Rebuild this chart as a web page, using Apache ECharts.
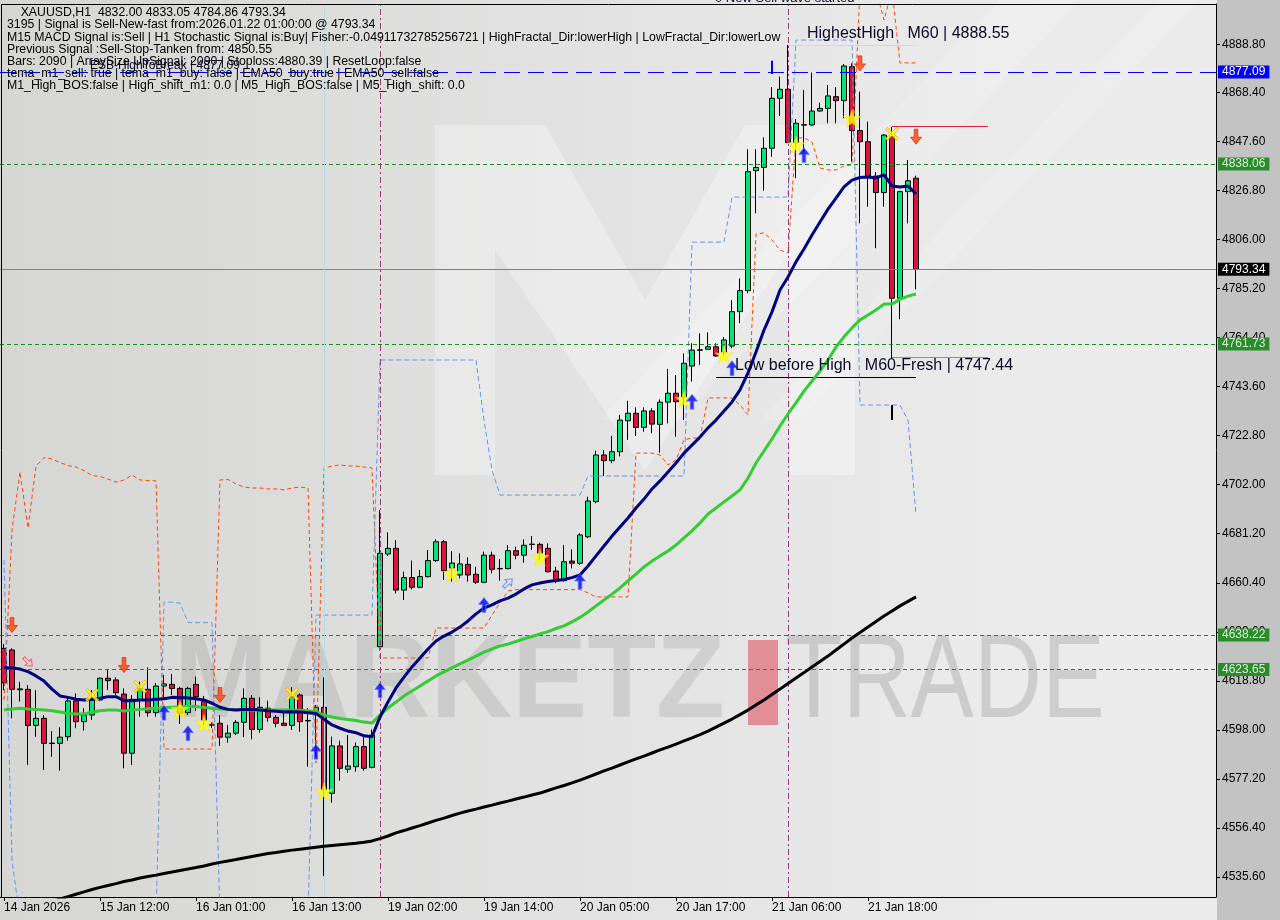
<!DOCTYPE html>
<html>
<head>
<meta charset="utf-8">
<script src="https://cdn.jsdelivr.net/npm/echarts@6/dist/echarts.min.js"></script>
<style>
html,body{margin:0;padding:0;}
#chart{width:1280px;height:920px;background:linear-gradient(to right,#d6d6d4 0px,#e2e2e2 560px,#ebebeb 1000px,#ececec 1217px,#c3c3c3 1217px,#c3c3c3 1280px);}
</style>
</head>
<body>
<div id="chart"></div>
<script>
// ---------- data ----------
const xTickIndex = [0, 12, 24, 36, 48, 60, 72, 84, 96, 108];
const xTickText = ['14 Jan 2026', '15 Jan 12:00', '16 Jan 01:00', '16 Jan 13:00', '19 Jan 02:00',
  '19 Jan 14:00', '20 Jan 05:00', '20 Jan 17:00', '21 Jan 06:00', '21 Jan 18:00'];
const yTicks = [4535.60, 4556.40, 4577.20, 4598.00, 4618.80, 4639.60, 4660.40, 4681.20, 4702.00,
  4722.80, 4743.60, 4764.40, 4785.20, 4806.00, 4826.80, 4847.60, 4868.40, 4888.80];

const opens = [
  4632.6, 4631.9, 4615.0, 4615.2, 4599.9, 4602.9, 4592.2, 4592.3, 4595.1, 4610.3,
  4601.5, 4604.3, 4610.7, 4619.9, 4619.2, 4613.2, 4588.1, 4611.0, 4615.2, 4605.3,
  4616.6, 4617.3, 4615.6, 4605.3, 4617.3, 4610.0, 4600.0, 4600.8, 4594.9, 4596.6,
  4601.2, 4611.4, 4598.2, 4607.2, 4603.3, 4600.8, 4599.9, 4612.8, 4601.8, 4605.7,
  4607.6, 4571.1, 4591.2, 4581.3, 4582.4, 4590.9, 4582.1, 4633.3, 4672.6, 4675.0,
  4657.3, 4662.6, 4658.5, 4663.0, 4669.8, 4677.8, 4666.7, 4663.7, 4668.2, 4664.0,
  4660.6, 4672.1, 4666.3, 4666.4, 4674.0, 4672.1, 4676.6, 4676.7, 4675.0, 4665.4,
  4661.3, 4669.6, 4668.7, 4679.9, 4694.8, 4714.6, 4712.2, 4716.0, 4729.1, 4732.3,
  4726.3, 4733.3, 4727.6, 4737.0, 4740.8, 4739.3, 4752.3, 4759.0, 4759.4, 4760.5,
  4758.3, 4760.8, 4775.4, 4784.3, 4835.2, 4836.6, 4844.7, 4865.9, 4869.7, 4847.1,
  4854.5, 4854.6, 4860.5, 4861.6, 4866.6, 4864.9, 4879.3, 4852.2, 4847.5, 4832.9,
  4825.9, 4849.6, 4781.1, 4826.3, 4832.00];
const highs = [
  4634.4, 4632.6, 4618.4, 4617.0, 4614.9, 4604.3, 4597.5, 4599.1, 4611.8, 4613.5,
  4607.2, 4614.9, 4620.3, 4623.4, 4620.3, 4615.6, 4612.8, 4618.4, 4624.5, 4617.8,
  4621.3, 4621.7, 4616.3, 4616.3, 4620.6, 4612.4, 4601.3, 4604.3, 4600.1, 4602.2,
  4615.6, 4612.8, 4611.8, 4610.4, 4604.3, 4606.7, 4616.1, 4613.5, 4607.2, 4608.6,
  4620.3, 4595.1, 4593.4, 4595.8, 4592.6, 4594.9, 4598.2, 4691.3, 4681.8, 4678.5,
  4665.1, 4669.8, 4665.8, 4674.3, 4678.8, 4678.5, 4673.9, 4672.9, 4671.2, 4667.2,
  4673.6, 4673.6, 4670.4, 4676.4, 4675.7, 4678.8, 4680.2, 4677.4, 4677.1, 4667.2,
  4676.4, 4674.6, 4681.4, 4696.9, 4716.4, 4716.7, 4722.7, 4731.6, 4737.6, 4734.8,
  4734.8, 4734.4, 4738.2, 4751.1, 4748.5, 4757.7, 4762.0, 4766.2, 4766.6, 4762.0,
  4764.6, 4780.3, 4789.5, 4844.3, 4844.3, 4849.3, 4870.6, 4875.1, 4888.55, 4857.1,
  4869.4, 4876.8, 4864.0, 4871.5, 4870.6, 4880.4, 4880.7, 4868.7, 4856.0, 4834.6,
  4850.7, 4853.8, 4826.7, 4839.7, 4833.05];
const lows = [
  4614.9, 4602.9, 4610.0, 4583.1, 4595.1, 4581.0, 4586.6, 4580.7, 4593.4, 4598.7,
  4597.7, 4602.2, 4610.4, 4614.9, 4612.8, 4581.7, 4583.1, 4603.6, 4603.6, 4603.6,
  4610.7, 4612.8, 4600.5, 4604.3, 4606.1, 4600.1, 4598.8, 4591.2, 4592.6, 4595.8,
  4594.9, 4594.0, 4596.8, 4601.5, 4599.1, 4599.6, 4598.0, 4597.2, 4582.4, 4586.6,
  4536.0, 4567.1, 4576.4, 4579.8, 4580.3, 4580.7, 4581.7, 4631.9, 4671.8, 4655.9,
  4653.1, 4657.6, 4658.1, 4662.7, 4669.3, 4661.6, 4660.9, 4662.3, 4660.9, 4659.9,
  4660.2, 4664.4, 4661.3, 4666.1, 4670.4, 4668.9, 4674.3, 4670.1, 4664.7, 4660.2,
  4660.9, 4666.5, 4667.9, 4679.3, 4694.1, 4705.7, 4711.1, 4714.0, 4721.0, 4722.7,
  4724.5, 4723.8, 4715.6, 4728.0, 4722.4, 4729.4, 4745.7, 4752.8, 4759.1, 4756.3,
  4756.9, 4759.9, 4770.5, 4783.2, 4817.1, 4826.7, 4841.1, 4858.4, 4846.8, 4832.0,
  4842.6, 4854.1, 4860.2, 4855.3, 4855.3, 4857.4, 4839.0, 4812.9, 4819.9, 4802.3,
  4819.9, 4755.6, 4772.2, 4812.9, 4784.86];
const closes = [
  4618.0, 4615.2, 4615.4, 4599.9, 4602.9, 4592.3, 4592.4, 4594.9, 4610.3, 4601.5,
  4604.3, 4610.7, 4619.9, 4618.9, 4613.8, 4588.1, 4611.0, 4615.6, 4605.3, 4616.6,
  4617.5, 4615.6, 4605.0, 4615.6, 4612.1, 4602.2, 4600.2, 4594.9, 4596.6, 4601.2,
  4611.4, 4598.2, 4607.6, 4603.3, 4600.8, 4599.9, 4612.1, 4601.5, 4602.0, 4607.6,
  4572.5, 4591.2, 4581.7, 4582.7, 4590.9, 4581.7, 4595.8, 4672.9, 4675.0, 4657.3,
  4662.6, 4658.5, 4663.0, 4669.8, 4677.8, 4665.5, 4668.8, 4668.4, 4663.7, 4660.6,
  4672.1, 4666.1, 4666.5, 4674.0, 4672.1, 4676.3, 4676.8, 4673.0, 4665.1, 4661.3,
  4669.3, 4668.7, 4680.7, 4695.1, 4714.6, 4712.2, 4716.0, 4729.4, 4732.3, 4726.3,
  4733.3, 4727.7, 4737.0, 4740.8, 4737.2, 4753.5, 4759.1, 4759.2, 4760.5, 4756.6,
  4763.4, 4775.4, 4784.3, 4834.8, 4836.6, 4844.7, 4865.9, 4869.7, 4847.1, 4855.3,
  4854.7, 4860.5, 4861.6, 4866.9, 4864.9, 4879.6, 4852.2, 4847.5, 4832.9, 4825.9,
  4850.3, 4781.1, 4826.3, 4830.9, 4793.34];

const fastMA = [
  4624.5, 4624.3, 4623.8, 4622.7, 4620.9, 4618.7, 4615.3, 4612.4, 4611.8, 4611.0,
  4610.7, 4611.0, 4611.4, 4612.1, 4612.1, 4610.4, 4610.4, 4610.7, 4610.7, 4611.0,
  4611.2, 4611.8, 4611.7, 4611.5, 4611.2, 4610.7, 4609.3, 4607.6, 4606.7, 4606.4,
  4606.7, 4606.7, 4606.4, 4606.1, 4605.9, 4605.6, 4605.7, 4605.6, 4605.3, 4605.0,
  4602.5, 4600.1, 4598.7, 4597.5, 4596.8, 4595.5, 4595.1, 4603.5, 4609.8, 4615.8,
  4620.4, 4624.7, 4628.5, 4632.3, 4635.7, 4637.8, 4639.5, 4641.6, 4644.2, 4647.2,
  4649.7, 4651.0, 4652.7, 4653.9, 4655.6, 4657.8, 4659.5, 4660.3, 4660.9, 4661.4,
  4661.8, 4662.6, 4663.7, 4667.5, 4671.8, 4676.0, 4680.2, 4684.1, 4687.9, 4692.1,
  4695.9, 4700.2, 4703.6, 4707.4, 4711.2, 4715.4, 4718.8, 4722.2, 4726.1, 4729.4,
  4733.3, 4737.1, 4742.2, 4749.4, 4758.3, 4767.6, 4775.3, 4784.6, 4790.1, 4796.5,
  4802.0, 4807.9, 4813.4, 4818.9, 4823.6, 4828.3, 4831.2, 4832.3, 4832.5, 4832.1,
  4833.4, 4828.7, 4828.3, 4828.7, 4825.3];
const ema50 = [
  4606.4, 4606.9, 4607.2, 4606.9, 4606.7, 4606.4, 4606.1, 4605.6, 4605.0, 4604.7,
  4604.7, 4605.6, 4606.1, 4606.4, 4606.4, 4606.0, 4606.4, 4606.7, 4607.0, 4607.2,
  4607.4, 4607.6, 4607.8, 4608.0, 4607.9, 4607.5, 4607.2, 4606.9, 4606.6, 4606.4,
  4606.4, 4606.4, 4606.4, 4606.4, 4606.4, 4606.4, 4606.4, 4606.3, 4606.1, 4605.8,
  4604.3, 4603.5, 4602.8, 4602.4, 4602.0, 4601.3, 4600.9, 4604.3, 4607.3, 4609.8,
  4612.4, 4614.5, 4616.6, 4618.7, 4620.9, 4622.6, 4624.3, 4626.0, 4627.6, 4629.3,
  4631.0, 4632.3, 4633.6, 4634.4, 4635.5, 4636.6, 4637.6, 4638.7, 4639.7, 4641.0,
  4642.1, 4643.8, 4645.7, 4648.0, 4650.6, 4653.1, 4655.6, 4658.2, 4661.2, 4664.1,
  4667.1, 4669.6, 4671.8, 4673.9, 4676.4, 4679.4, 4682.4, 4685.8, 4689.6, 4692.1,
  4694.7, 4697.2, 4699.8, 4704.8, 4711.2, 4716.3, 4721.4, 4726.9, 4732.0, 4736.7,
  4741.7, 4746.0, 4750.2, 4754.9, 4760.4, 4764.7, 4768.5, 4771.9, 4774.0, 4776.1,
  4778.6, 4778.6, 4780.6, 4782.0, 4782.9];
const ema200 = [
  4519.8, 4520.6, 4521.6, 4522.5, 4523.4, 4524.4, 4525.3, 4526.3, 4527.3, 4528.3,
  4529.3, 4530.3, 4531.2, 4532.0, 4532.8, 4533.7, 4534.3, 4535.2, 4535.8, 4536.4,
  4537.1, 4537.7, 4538.4, 4539.0, 4539.6, 4540.3, 4541.1, 4541.8, 4542.4, 4543.0,
  4543.7, 4544.3, 4544.9, 4545.6, 4546.0, 4546.5, 4547.0, 4547.4, 4547.8, 4548.2,
  4548.6, 4549.0, 4549.3, 4549.6, 4549.9, 4550.3, 4550.9, 4551.9, 4553.0, 4554.3,
  4555.3, 4556.4, 4557.4, 4558.5, 4559.6, 4560.6, 4561.7, 4562.7, 4563.6, 4564.4,
  4565.3, 4566.1, 4567.0, 4567.8, 4568.7, 4569.5, 4570.4, 4571.2, 4572.3, 4573.4,
  4574.4, 4575.5, 4576.7, 4578.0, 4579.3, 4580.6, 4581.8, 4583.1, 4584.4, 4585.7,
  4586.9, 4588.2, 4589.5, 4590.7, 4592.0, 4593.3, 4594.6, 4596.0, 4597.5, 4599.2,
  4600.9, 4602.6, 4604.5, 4606.4, 4608.6, 4610.7, 4613.0, 4615.3, 4617.7, 4620.0,
  4622.3, 4624.7, 4627.0, 4629.3, 4631.9, 4634.4, 4637.0, 4639.3, 4641.6, 4644.0,
  4646.3, 4648.4, 4650.6, 4652.5, 4654.4];
const upperBand = [
  4610.7, 4682.8, 4707.4, 4683.6, 4709.9, 4713.5, 4712.9, 4711.4, 4710.1, 4709.5,
  4708.0, 4705.9, 4705.5, 4704.4, 4703.1, 4704.0, 4706.1, 4704.0, 4703.8, 4703.6,
  4589.9, 4589.9, 4589.9, 4589.9, 4589.9, 4589.9, 4589.9, 4704.0, 4704.2, 4702.3,
  4701.0, 4700.6, 4700.6, 4700.2, 4700.2, 4699.8, 4700.6, 4701.0, 4700.6, 4584.0,
  4709.1, 4709.9, 4710.4, 4709.9, 4709.9, 4709.5, 4709.1, 4628.5, 4628.5, 4628.5,
  4628.5, 4628.5, 4628.5, 4628.5, 4641.2, 4641.2, 4641.2, 4641.2, 4641.2, 4641.2,
  4641.2, 4646.7, 4651.8, 4656.9, 4657.5, 4657.5, 4657.5, 4657.5, 4657.5, 4657.5,
  4657.5, 4657.5, 4657.5, 4656.1, 4654.4, 4654.4, 4654.4, 4654.4, 4654.4, 4715.4,
  4715.4, 4715.4, 4714.6, 4710.4, 4712.5, 4721.0, 4721.8, 4721.8, 4738.8, 4738.8,
  4738.8, 4738.8, 4735.8, 4731.6, 4808.3, 4808.8, 4805.8, 4801.5, 4800.3, 4849.1,
  4849.1, 4847.4, 4836.3, 4835.5, 4835.5, 4837.2, 4837.6, 4911.8, 4911.8, 4911.8,
  4899.1, 4911.8, 4880.9, 4880.9, 4880.9];
const stepBand = [
  4670.1, 4542.8, 4518, 4518, 4518, 4518, 4518, 4518, 4518, 4518,
  4518, 4518, 4518, 4518, 4518, 4518, 4518, 4518, 4518, 4518,
  4652.2, 4652.2, 4651.8, 4643.5, 4643.5, 4643.5, 4643.5, 4518, 4518, 4518,
  4518, 4518, 4518, 4518, 4518, 4518, 4518, 4518, 4518, 4646.7,
  4646.7, 4646.7, 4646.7, 4646.7, 4646.7, 4646.7, 4646.7, 4754.9, 4754.9, 4754.9,
  4754.9, 4754.9, 4754.9, 4754.9, 4754.9, 4754.9, 4754.9, 4754.9, 4754.9, 4754.9,
  4729.4, 4708.2, 4697.6, 4697.6, 4697.6, 4697.6, 4697.6, 4697.6, 4697.6, 4697.6,
  4697.6, 4697.6, 4697.6, 4705.7, 4705.7, 4705.7, 4705.7, 4705.7, 4705.7, 4705.7,
  4705.7, 4705.7, 4705.7, 4705.7, 4705.7, 4705.7, 4804.9, 4804.9, 4804.9, 4804.9,
  4804.9, 4824.0, 4824.0, 4824.0, 4824.0, 4824.0, 4824.0, 4824.0, 4824.0, 4890.6,
  4890.6, 4890.6, 4890.6, 4890.6, 4890.6, 4890.6, 4890.6, 4735.8, 4735.8, 4735.8,
  4735.8, 4735.8, 4735.8, 4729.4, 4689.2];

const starPts = [[22, 4606.7], [25, 4600.8], [40, 4571.8], [56, 4664.4], [67, 4671.2], [85, 4738.2], [90, 4757.0], [99, 4846.1], [106, 4857.4]];
const crossPts = [[11, 4612.8], [17, 4616.3], [36, 4613.2], [111, 4850.8]];
const buyArrowPts = [[20, 4605.3], [23, 4596.6], [39, 4588.7], [47, 4614.9], [60, 4651.0], [72, 4660.9], [86, 4737.2], [91, 4751.4], [100, 4841.8]];
const sellArrowPts = [[1, 4642.5], [15, 4625.5], [27, 4612.8], [107, 4880.7], [114, 4849.6]];
const hollowSellPts = [[3, 4626.8]];
const hollowBuyPts = [[63, 4660.3]];

const levelValues = [4877.09, 4838.06, 4793.34, 4761.73, 4638.22, 4623.65];
const headerLines = [
  '    XAUUSD,H1  4832.00 4833.05 4784.86 4793.34',
  '3195 | Signal is Sell-New-fast from:2026.01.22 01:00:00 @ 4793.34',
  'M15 MACD Signal is:Sell | H1 Stochastic Signal is:Buy| Fisher:-0.04911732785256721 | HighFractal_Dir:lowerHigh | LowFractal_Dir:lowerLow',
  'Previous Signal :Sell-Stop-Tanken from: 4850.55',
  'Bars: 2090 | ArraySize UpSignal: 2090 | Stoploss:4880.39 | ResetLoop:false',
  'tema_m1_sell: true | tema_m1_buy: false | EMA50_buy:true | EMA50_sell:false',
  'M1_High_BOS:false | High_shift_m1: 0.0 | M5_High_BOS:false | M5_High_shift: 0.0'
];

// ---------- chart ----------
const N_SLOTS = 152;
const categories = Array.from({length: N_SLOTS}, (_, i) => 'b' + i);
const FONT = 'Liberation Sans';
const Y_MIN = 4527.12, Y_MAX = 4905.89;

const candleData = opens.map((o, i) => [o, closes[i], lows[i], highs[i]]);

const STAR = 'path://M50,0 L61.8,36.2 L100,36.2 L69.1,58.8 L80.9,95.1 L50,72.7 L19.1,95.1 L30.9,58.8 L0,36.2 L38.2,36.2 Z';
const CROSS = 'path://M0,2 L2,0 L7,5 L12,0 L14,2 L9,7 L14,12 L12,14 L7,9 L2,14 L0,12 L5,7 Z';
const UP = 'path://M6,0 L12,7 L8,7 L8,15 L4,15 L4,7 L0,7 Z';
const DOWN = 'path://M4,0 L8,0 L8,8 L12,8 L6,15 L0,8 L4,8 Z';

const levelStyles = [
  {line: {color: '#0000ff', type: [16, 8], width: 1}, bg: '#0000ff', fg: '#ffffff'},
  {line: {color: '#1f8a1f', type: [4, 3], width: 1}, bg: '#2a8c2a', fg: '#d6f0d6'},
  {line: {color: '#808080', type: 'solid', width: 1}, bg: '#000000', fg: '#ffffff'},
  {line: {color: '#1f8a1f', type: [4, 3], width: 1}, bg: '#2a8c2a', fg: '#d6f0d6'},
  {line: {color: '#1f8a1f', type: [4, 3], width: 1}, bg: '#2a8c2a', fg: '#d6f0d6'},
  {line: {color: '#1f8a1f', type: [4, 3], width: 1}, bg: '#2a8c2a', fg: '#d6f0d6'}
];

const levelMarks = levelValues.map((v, i) => ({
  yAxis: v,
  lineStyle: levelStyles[i].line,
  label: {
    show: true, position: 'end', distance: 2,
    formatter: v.toFixed(2), backgroundColor: levelStyles[i].bg, color: levelStyles[i].fg,
    padding: [1, 4, 0, 4], fontSize: 12, fontFamily: FONT
  }
}));
const vertMarks = [
  {xAxis: categories[40], lineStyle: {color: '#b4dce8', type: 'solid', width: 1}, label: {show: false}},
  {xAxis: categories[47], lineStyle: {color: '#9a3a78', type: [6, 3, 2, 3], width: 1}, label: {show: false}},
  {xAxis: categories[98], lineStyle: {color: '#9a3a78', type: [6, 3, 2, 3], width: 1}, label: {show: false}}
];

function seg(i0, v0, i1, v1, style) {
  return [{coord: [categories[i0], v0], lineStyle: style}, {coord: [categories[i1], v1]}];
}
const segMarks = [
  seg(98, 4888.55, 114, 4888.55, {color: '#f5f000', width: 1, type: 'solid'}),
  seg(89, 4747.44, 114, 4747.44, {color: '#000000', width: 1, type: 'solid'}),
  seg(111, 4854.1, 123, 4854.1, {color: '#e0203c', width: 1, type: 'solid'}),
  seg(111, 4756.2, 123, 4756.2, {color: '#6495ed', width: 1, type: 'solid'}),
  seg(96, 4876.2, 96, 4881.8, {color: '#0000ff', width: 2, type: 'solid'}),
  seg(111, 4729.4, 111, 4735.8, {color: '#000000', width: 2, type: 'solid'})
];

const headerGraphics = headerLines.map((t, i) => ({
  type: 'text', z: 100, silent: true,
  style: {text: t, x: 7, y: 13 + i * 12.1, fill: '#000', fontSize: 12.3, fontFamily: FONT, verticalAlign: 'middle', align: 'left'}
}));

function note(idx, val, text, size, dx, dy) {
  return {value: [idx, val], label: {formatter: text, fontSize: size, position: [dx, dy]}};
}

const option = {
  animation: false,
  backgroundColor: 'transparent',
  grid: {left: 0, right: 64, top: 4, bottom: 23, show: false},
  xAxis: {
    type: 'category', data: categories, boundaryGap: true,
    axisLine: {show: true, lineStyle: {color: '#000', width: 1}},
    axisTick: {show: true, alignWithLabel: true, length: 4, interval: (i) => xTickIndex.includes(i), lineStyle: {color: '#000'}},
    axisLabel: {
      interval: (i) => xTickIndex.includes(i),
      formatter: (v, i) => { const k = xTickIndex.indexOf(i); return k >= 0 ? xTickText[k] : ''; },
      align: 'left', margin: 5, fontSize: 12, color: '#000', fontFamily: FONT
    },
    splitLine: {show: false}
  },
  yAxis: {
    type: 'value', position: 'right', min: Y_MIN, max: Y_MAX,
    splitLine: {show: false},
    axisLine: {show: true, lineStyle: {color: '#000', width: 1}},
    axisTick: {show: true, customValues: yTicks, length: 4, lineStyle: {color: '#000'}},
    axisLabel: {customValues: yTicks, formatter: (v) => v.toFixed(2), color: '#000', fontSize: 12, margin: 6, fontFamily: FONT}
  },
  graphic: [
    {type: 'polygon', z: -1, silent: true,
      shape: {points: [[435, 125], [545, 125], [645, 300], [745, 125], [855, 125], [855, 475], [790, 475], [790, 250], [645, 470], [495, 250], [495, 475], [435, 475]]},
      style: {fill: 'rgba(255,255,255,0.30)'}},
    {type: 'polygon', z: -1, silent: true,
      shape: {points: [[600, 420], [1000, 0], [1080, 0], [680, 420]]},
      style: {fill: 'rgba(255,255,255,0.16)'}},
    {type: 'polygon', z: -1, silent: true,
      shape: {points: [[760, 420], [1160, 0], [1200, 0], [800, 420]]},
      style: {fill: 'rgba(255,255,255,0.14)'}},
    {type: 'text', z: -1, silent: true, x: 174, y: 684, scaleX: 0.955,
      style: {text: 'MARKETZ', x: 0, y: 0, fill: 'rgba(100,100,100,0.16)', fontSize: 118, fontWeight: 'bold', fontFamily: FONT, verticalAlign: 'middle', align: 'left'}},
    {type: 'rect', z: -1, silent: true, shape: {x: 748, y: 640, width: 30, height: 85}, style: {fill: 'rgba(222,70,85,0.55)'}},
    {type: 'text', z: -1, silent: true, x: 785, y: 684, scaleX: 0.8,
      style: {text: 'TRADE', x: 0, y: 0, fill: 'rgba(100,100,100,0.22)', fontSize: 118, fontFamily: FONT, verticalAlign: 'middle', align: 'left'}},
    {type: 'line', z: 50, silent: true, shape: {x1: 1.5, y1: 4, x2: 1.5, y2: 897}, style: {stroke: '#000', lineWidth: 1}},
    {type: 'line', z: 50, silent: true, shape: {x1: 1, y1: 4.5, x2: 1216, y2: 4.5}, style: {stroke: '#000', lineWidth: 1}}
  ].concat(headerGraphics),
  series: [
    {type: 'line', name: 'levels', data: [], z: 1, silent: true,
      markLine: {silent: true, symbol: ['none', 'none'], animation: false, data: levelMarks.concat(vertMarks)}},
    {type: 'candlestick', name: 'XAUUSD', data: candleData, barWidth: 5, z: 3, silent: true,
      itemStyle: {color: '#00e676', color0: '#dc143c', borderColor: '#000', borderColor0: '#000', borderWidth: 1}},
    {type: 'line', name: 'upper', data: upperBand, symbol: 'none', z: 4, silent: true,
      lineStyle: {color: '#ff4500', width: 1, type: [4, 3]}},
    {type: 'line', name: 'step', data: stepBand, symbol: 'none', z: 4, silent: true,
      lineStyle: {color: '#6495ed', width: 1, type: [5, 3]}},
    {type: 'line', name: 'ema200', data: ema200, symbol: 'none', z: 5, silent: true,
      lineStyle: {color: '#000000', width: 3}},
    {type: 'line', name: 'ema50', data: ema50, symbol: 'none', z: 5, silent: true,
      lineStyle: {color: '#32cd32', width: 3}},
    {type: 'line', name: 'fast', data: fastMA, symbol: 'none', z: 6, silent: true,
      lineStyle: {color: '#000080', width: 3}},
    {type: 'line', name: 'segments', data: [], z: 7, silent: true,
      markLine: {silent: true, symbol: ['none', 'none'], animation: false, label: {show: false}, data: segMarks}},
    {type: 'scatter', name: 'stars', data: starPts, symbol: STAR, symbolSize: 18, z: 12, silent: true,
      itemStyle: {color: '#ffff00', borderColor: '#f0e000', borderWidth: 0.5}},
    {type: 'scatter', name: 'crosses', data: crossPts, symbol: CROSS, symbolSize: 13, z: 12, silent: true,
      itemStyle: {color: '#ffff00', borderColor: '#f0a020', borderWidth: 1}},
    {type: 'scatter', name: 'buy', data: buyArrowPts, symbol: UP, symbolSize: [11, 15], z: 12, silent: true,
      itemStyle: {color: '#0000ff', borderColor: '#6a8cff', borderWidth: 0.8}},
    {type: 'scatter', name: 'sell', data: sellArrowPts, symbol: DOWN, symbolSize: [11, 15], z: 12, silent: true,
      itemStyle: {color: '#ff4500', borderColor: '#e01010', borderWidth: 0.8}},
    {type: 'scatter', name: 'hollowSell', data: hollowSellPts, symbol: UP, symbolRotate: -135, symbolSize: [9, 12], z: 12, silent: true,
      itemStyle: {color: 'rgba(0,0,0,0)', borderColor: '#ff4060', borderWidth: 1}},
    {type: 'scatter', name: 'hollowBuy', data: hollowBuyPts, symbol: UP, symbolRotate: -45, symbolSize: [9, 12], z: 12, silent: true,
      itemStyle: {color: 'rgba(0,0,0,0)', borderColor: '#4a7cff', borderWidth: 1}},
    {type: 'scatter', name: 'notes', symbol: 'rect', symbolSize: 2, z: 13, silent: true, clip: false,
      itemStyle: {color: 'rgba(0,0,0,0)', borderWidth: 0},
      label: {show: true, align: 'left', verticalAlign: 'middle', color: '#0a0a28', fontFamily: FONT, textBorderWidth: 0, opacity: 1},
      labelLayout: {hideOverlap: false},
      data: [
        note(98, 4888.55, 'HighestHigh   M60 | 4888.55', 16, 20, -10),
        note(89, 4747.44, 'Low before High   M60-Fresh | 4747.44', 16, 20, -10.5),
        note(11, 4877.09, 'ESB-HighToBreak | 4877.09', 12, -1, -5),
        note(89, Y_MAX, '0 New Sell wave started', 13, 0, -5)
      ]}
  ]
};

const chart = echarts.init(document.getElementById('chart'), null, {renderer: 'canvas'});
chart.setOption(option);
</script>
</body>
</html>
